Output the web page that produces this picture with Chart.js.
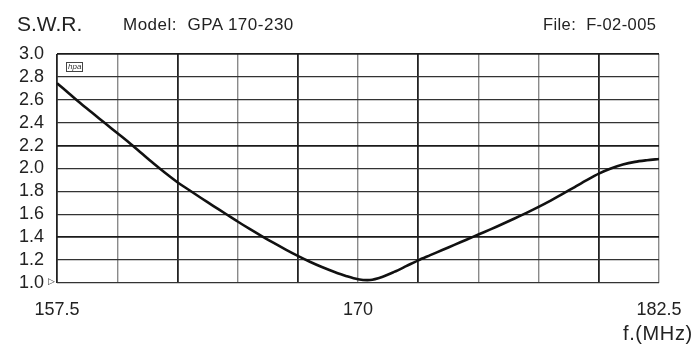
<!DOCTYPE html>
<html>
<head>
<meta charset="utf-8">
<script src="https://cdn.jsdelivr.net/npm/chart.js@4/dist/chart.umd.min.js"></script>
<style>
  html, body { margin: 0; padding: 0; background: #fff; }
  #wrap { position: relative; width: 700px; height: 344px; overflow: hidden; }
  canvas { position: absolute; left: 0; top: 0; }
  .txt { position: absolute; font-family: "Liberation Sans", Arial, sans-serif; color: #222; white-space: pre; line-height: 1; }
  #swr { left: 17px; top: 13px; font-size: 21px; }
  #model { left: 123px; top: 16px; font-size: 17px; letter-spacing: 0.5px; }
  #file { left: 543px; top: 16px; font-size: 16.5px; letter-spacing: 0.4px; }
  #unit { left: 623px; top: 323px; font-size: 20px; letter-spacing: 0.6px; }
  #logo { left: 66px; top: 62px; font-size: 8px; font-style: italic; border: 1px solid #444; padding: 0 1px; line-height: 8px; color: #333; }
  #mark { left: 48px; top: 277px; font-size: 9px; font-family: "DejaVu Sans", sans-serif; color: #333; }
</style>
</head>
<body>
<div id="wrap">
  <canvas id="c" width="700" height="344"></canvas>
  <div class="txt" id="swr">S.W.R.</div>
  <div class="txt" id="model">Model:  GPA 170-230</div>
  <div class="txt" id="file">File:  F-02-005</div>
  <div class="txt" id="unit">f.(MHz)</div>
  <div class="txt" id="logo">hpa</div>
  <div class="txt" id="mark">▷</div>
</div>
<script>
// Frequency sweep (MHz) and measured standing wave ratio
const freqMHz = [
  157.5, 158.0, 158.5, 159.0, 159.5, 160.0, 160.5, 161.0, 161.5, 162.0,
  162.5, 163.0, 163.5, 164.0, 164.5, 165.0, 165.5, 166.0, 166.5, 167.0,
  167.5, 168.0, 168.5, 169.0, 169.5, 170.0, 170.5, 171.0, 171.5, 172.0,
  172.5, 173.0, 173.5, 174.0, 174.5, 175.0, 175.5, 176.0, 176.5, 177.0,
  177.5, 178.0, 178.5, 179.0, 179.5, 180.0, 180.5, 181.0, 181.5, 182.0,
  182.5
];
const swr = [
  2.745, 2.655, 2.565, 2.48, 2.395, 2.31, 2.225, 2.135, 2.045, 1.96,
  1.88, 1.81, 1.74, 1.672, 1.605, 1.537, 1.472, 1.41, 1.35, 1.292,
  1.237, 1.186, 1.14, 1.099, 1.062, 1.033, 1.026, 1.053, 1.097, 1.147,
  1.198, 1.243, 1.288, 1.333, 1.378, 1.423, 1.468, 1.515, 1.563, 1.613,
  1.665, 1.72, 1.778, 1.838, 1.898, 1.955, 2.0, 2.035, 2.058, 2.072,
  2.083
];
// Frequencies that carry a printed label on the x axis
const labelledFreqs = [157.5, 170, 182.5];
// Vertical rules drawn heavier (major divisions)
const heavyFreqs = [157.5, 162.5, 167.5, 172.5, 180];
// Horizontal rules drawn heavier
const heavySwr = [3.0, 2.2, 1.4];

const near = (a, b) => Math.abs(a - b) < 1e-6;

new Chart(document.getElementById('c'), {
  type: 'line',
  data: {
    datasets: [{
      data: freqMHz.map((f, i) => ({ x: f, y: swr[i] })),
      borderColor: '#111',
      borderWidth: 2.6,
      pointRadius: 0,
      tension: 0.3,
      fill: false
    }]
  },
  options: {
    responsive: false,
    animation: false,
    layout: { padding: { left: 0, top: 54, right: 41, bottom: 0 } },
    plugins: { legend: { display: false }, tooltip: { enabled: false } },
    scales: {
      x: {
        type: 'linear',
        min: 157.5,
        max: 182.5,
        afterFit: s => { s.height = 61; },
        afterBuildTicks: s => {
          const t = [];
          for (let v = 157.5; v <= 182.5 + 1e-6; v += 2.5) t.push({ value: v });
          s.ticks = t;
        },
        border: { display: false },
        grid: {
          drawTicks: false,
          color: c => heavyFreqs.some(v => near(v, c.tick.value)) ? '#222' : '#8a8a8a',
          lineWidth: c => heavyFreqs.some(v => near(v, c.tick.value)) ? 1.8 : 1.4
        },
        ticks: {
          padding: 16,
          maxRotation: 0,
          autoSkip: false,
          color: '#222',
          font: { family: 'Liberation Sans', size: 18 },
          callback: v => labelledFreqs.some(f => near(f, v)) ? String(v) : ''
        }
      },
      y: {
        min: 1.0,
        max: 3.0,
        afterFit: s => { s.width = 57; },
        afterBuildTicks: s => {
          const t = [];
          for (let i = 0; i <= 10; i++) t.push({ value: Math.round((1 + i * 0.2) * 10) / 10 });
          s.ticks = t;
        },
        border: { display: false },
        grid: {
          drawTicks: false,
          color: c => heavySwr.some(v => near(v, c.tick.value)) ? '#1a1a1a' : '#333',
          lineWidth: c => heavySwr.some(v => near(v, c.tick.value)) ? 1.8 : 1.3
        },
        ticks: {
          padding: 13,
          autoSkip: false,
          color: '#222',
          font: { family: 'Liberation Sans', size: 18 },
          callback: v => Number(v).toFixed(1)
        }
      }
    }
  }
});
</script>
</body>
</html>
